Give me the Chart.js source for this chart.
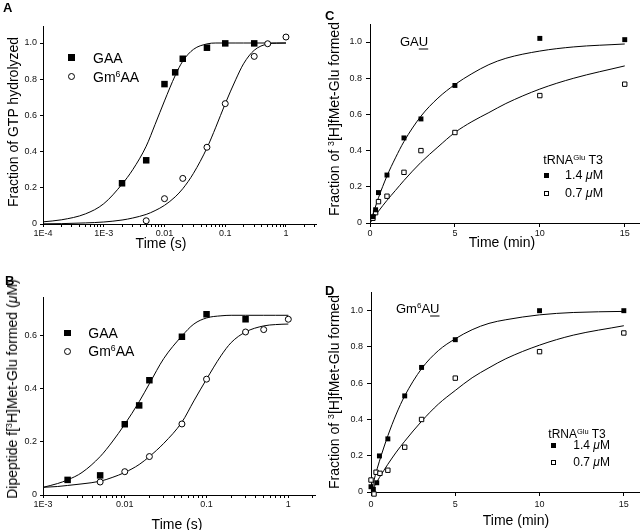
<!DOCTYPE html>
<html>
<head>
<meta charset="utf-8">
<script src="https://cdn.jsdelivr.net/npm/chart.js@4.4.0/dist/chart.umd.min.js"></script>
<style>
body { margin:0; background:#fff; width:644px; height:530px; position:relative; overflow:hidden; font-family:"Liberation Sans", Arial, sans-serif; color:#000; }
canvas { position:absolute; }
.t { position:absolute; white-space:nowrap; line-height:1; }
.t u { text-underline-offset:3px; text-decoration-thickness:1px; }
sup { font-size:0.62em; vertical-align:0.55em; line-height:0; }
.mk { position:absolute; box-sizing:border-box; border:1px solid #000; }
</style>
</head>
<body>
<canvas id="chartA" width="322" height="265" style="left:0;top:0"></canvas>
<canvas id="chartB" width="322" height="265" style="left:0;top:265px"></canvas>
<canvas id="chartC" width="322" height="265" style="left:322px;top:0"></canvas>
<canvas id="chartD" width="322" height="265" style="left:322px;top:265px"></canvas>
<script>
// ---- A: fraction of GTP hydrolyzed vs time (log)
const aGaaTime = [0.002, 0.005, 0.01, 0.015, 0.02, 0.05, 0.1, 0.3];
const aGaaFrac = [0.225, 0.352, 0.773, 0.838, 0.913, 0.974, 0.998, 0.998];
const aGm6Time = [0.005, 0.01, 0.02, 0.05, 0.1, 0.3, 0.5, 1];
const aGm6Frac = [0.018, 0.14, 0.252, 0.424, 0.665, 0.926, 0.996, 1.033];
const aFitTime = [1e-4, 2e-4, 5e-4, 1e-3, 2e-3, 3e-3, 5e-3, 7e-3, 0.01, 0.015, 0.02, 0.03, 0.05, 0.07, 0.1, 0.15, 0.2, 0.3, 0.5, 0.7, 1];
const aFitGaa = [0.012, 0.023, 0.056, 0.112, 0.22, 0.30, 0.43, 0.55, 0.68, 0.82, 0.90, 0.965, 0.995, 1.0, 1.0, 1.0, 1.0, 1.0, 1.0, 1.0, 1.0];
const aFitGm6 = [0.001, 0.002, 0.006, 0.011, 0.022, 0.033, 0.053, 0.074, 0.103, 0.15, 0.195, 0.28, 0.42, 0.535, 0.665, 0.80, 0.885, 0.96, 0.995, 0.999, 1.0];
const aXTicks = [1e-4, 1e-3, 0.01, 0.1, 1];
const aXLabels = ['1E-4', '1E-3', '0.01', '0.1', '1'];
const aYTicks = [0, 0.2, 0.4, 0.6, 0.8, 1.0];
const aYLabels = ['0', '0.2', '0.4', '0.6', '0.8', '1.0'];

// ---- B: dipeptide formed (uM) vs time (log)
const bGaaTime = [0.002, 0.005, 0.01, 0.015, 0.02, 0.05, 0.1, 0.3];
const bGaaConc = [0.057, 0.074, 0.267, 0.338, 0.433, 0.597, 0.682, 0.663];
const bGm6Time = [0.005, 0.01, 0.02, 0.05, 0.1, 0.3, 0.5, 1];
const bGm6Conc = [0.049, 0.088, 0.145, 0.268, 0.437, 0.615, 0.624, 0.663];
const bFitTime = [1e-3, 1.5e-3, 2e-3, 3e-3, 5e-3, 7e-3, 0.01, 0.015, 0.02, 0.03, 0.05, 0.07, 0.1, 0.15, 0.2, 0.3, 0.5, 0.7, 1];
const bFitGaa = [0.029, 0.043, 0.057, 0.085, 0.145, 0.20, 0.267, 0.352, 0.42, 0.515, 0.60, 0.645, 0.668, 0.676, 0.678, 0.678, 0.678, 0.678, 0.678];
const bFitGm6 = [0.029, 0.032, 0.036, 0.042, 0.052, 0.066, 0.085, 0.115, 0.145, 0.195, 0.275, 0.355, 0.437, 0.525, 0.575, 0.615, 0.638, 0.643, 0.645];
const bXTicks = [1e-3, 0.01, 0.1, 1];
const bXLabels = ['1E-3', '0.01', '0.1', '1'];
const bYTicks = [0, 0.2, 0.4, 0.6];
const bYLabels = ['0', '0.2', '0.4', '0.6'];

// ---- C: GAU, fraction formed vs time (min)
const cTime14 = [0.17, 0.33, 0.5, 1, 2, 3, 5, 10, 15];
const cFrac14 = [0.035, 0.073, 0.168, 0.265, 0.47, 0.575, 0.76, 1.02, 1.013];
const cTime07 = [0.17, 0.33, 0.5, 1, 2, 3, 5, 10, 15];
const cFrac07 = [0.026, 0.057, 0.118, 0.148, 0.28, 0.40, 0.50, 0.704, 0.767];
const cFitTime = [0, 0.25, 0.5, 1, 1.5, 2, 3, 4, 5, 6, 7, 8, 10, 12, 15];
const cFit14 = [0, 0.07, 0.14, 0.26, 0.36, 0.45, 0.59, 0.69, 0.765, 0.825, 0.875, 0.91, 0.95, 0.973, 0.989];
const cFit07 = [0, 0.032, 0.065, 0.125, 0.18, 0.235, 0.335, 0.42, 0.50, 0.56, 0.61, 0.66, 0.74, 0.80, 0.868];

// ---- D: Gm6AU, fraction formed vs time (min)
const dTime14 = [0, 0.14, 0.34, 0.5, 1, 2, 3, 5, 10, 15];
const dFrac14 = [0.029, 0.015, 0.051, 0.199, 0.293, 0.53, 0.687, 0.84, 1.0, 1.0];
const dTime07 = [0, 0.18, 0.3, 0.53, 1, 2, 3, 5, 10, 15];
const dFrac07 = [0.066, -0.011, 0.109, 0.103, 0.12, 0.247, 0.40, 0.628, 0.774, 0.877];
const dFitTime = [0, 0.25, 0.5, 1, 1.5, 2, 3, 4, 5, 6, 7, 8, 10, 12, 15];
const dFit14 = [0, 0.09, 0.17, 0.31, 0.43, 0.53, 0.68, 0.78, 0.845, 0.895, 0.93, 0.95, 0.977, 0.99, 0.996];
const dFit07 = [0, 0.04, 0.08, 0.153, 0.22, 0.28, 0.39, 0.485, 0.56, 0.63, 0.685, 0.735, 0.81, 0.865, 0.917];

const minTicks = [0, 5, 10, 15];
const minLabels = ['0', '5', '10', '15'];
const fracTicks = [0, 0.2, 0.4, 0.6, 0.8, 1.0];
const fracLabels = ['0', '0.2', '0.4', '0.6', '0.8', '1.0'];

Chart.defaults.font.family = '"Liberation Sans", Arial, sans-serif';

function pts(xs, ys) {
    return xs.map((x, i) => ({ x: x, y: ys[i] }));
}

function marks(xs, ys, shape, filled, r) {
    return {
        data: pts(xs, ys),
        pointStyle: shape,
        pointRadius: r,
        backgroundColor: filled ? '#000' : '#fff',
        borderColor: '#000',
        borderWidth: filled ? 0 : 1,
        showLine: false,
        clip: false
    };
}

function fit(xs, ys) {
    return {
        data: pts(xs, ys),
        showLine: true,
        borderColor: '#000',
        borderWidth: 1,
        pointRadius: 0,
        fill: false,
        cubicInterpolationMode: 'monotone'
    };
}

// every 1..9 x 10^n between min and max, for log minor ticks
function logTicks(min, max) {
    const out = [];
    for (let e = Math.floor(Math.log10(min)); e <= Math.ceil(Math.log10(max)); e++) {
        for (let k = 1; k <= 9; k++) {
            const v = k * Math.pow(10, e);
            if (v >= min * 0.999 && v <= max) out.push(v);
        }
    }
    return out;
}

function axis(o) {
    return {
        type: o.type,
        min: o.min,
        max: o.max,
        border: { display: true, color: '#000', width: 1 },
        grid: { display: true, drawOnChartArea: false, drawTicks: true, tickLength: o.tick, color: '#000' },
        ticks: {
            color: '#111',
            font: { size: 9 },
            padding: o.pad,
            autoSkip: false,
            maxRotation: 0,
            callback: (v) => {
                const i = o.values.findIndex(t => Math.abs(t - v) <= Math.abs(t) * 1e-6 + 1e-9);
                return i >= 0 ? o.labels[i] : '';
            }
        },
        afterBuildTicks: (s) => {
            s.ticks = o.all.map(v => ({ value: v }));
        },
        afterFit: (s) => {
            if (o.width) s.width = o.width;
            if (o.height) s.height = o.height;
        }
    };
}

function panel(id, datasets, padding, xAxis, yAxis) {
    return new Chart(document.getElementById(id), {
        type: 'scatter',
        data: { datasets: datasets },
        options: {
            responsive: false,
            animation: false,
            devicePixelRatio: 1,
            layout: { padding: padding },
            plugins: { legend: { display: false }, tooltip: { enabled: false } },
            scales: { x: xAxis, y: yAxis }
        }
    });
}

panel('chartA', [
    marks(aGaaTime, aGaaFrac, 'rect', true, 4.6),
    marks(aGm6Time, aGm6Frac, 'circle', false, 3),
    fit(aFitTime, aFitGaa),
    fit(aFitTime, aFitGm6)
], { top: 26, right: 6, left: 0, bottom: 0 },
    axis({ type: 'logarithmic', min: 1e-4, max: 3.12, tick: 3, pad: 1.5, values: aXTicks, labels: aXLabels, all: logTicks(1e-4, 3.12), height: 41 }),
    axis({ type: 'linear', min: 0, max: 1.094, tick: 3, pad: 3, values: aYTicks, labels: aYLabels, all: aYTicks, width: 43 }));

panel('chartB', [
    marks(bGaaTime, bGaaConc, 'rect', true, 4.6),
    marks(bGm6Time, bGm6Conc, 'circle', false, 3),
    fit(bFitTime, bFitGaa),
    fit(bFitTime, bFitGm6)
], { top: 32, right: 7, left: 0, bottom: 0 },
    axis({ type: 'logarithmic', min: 1e-3, max: 2.12, tick: 3, pad: 1, values: bXTicks, labels: bXLabels, all: logTicks(1e-3, 2.12), height: 35 }),
    axis({ type: 'linear', min: 0, max: 0.747, tick: 3, pad: 3, values: bYTicks, labels: bYLabels, all: bYTicks, width: 43 }));

panel('chartC', [
    marks(cTime14, cFrac14, 'rect', true, 3.5),
    marks(cTime07, cFrac07, 'rect', false, 3.1),
    fit(cFitTime, cFit14),
    fit(cFitTime, cFit07)
], { top: 24, right: 5, left: 0, bottom: 0 },
    axis({ type: 'linear', min: 0, max: 15.84, tick: 4, pad: 1.5, values: minTicks, labels: minLabels, all: minTicks, height: 42 }),
    axis({ type: 'linear', min: 0, max: 1.0995, tick: 4, pad: 4, values: fracTicks, labels: fracLabels, all: fracTicks, width: 48 }));

panel('chartD', [
    marks(dTime14, dFrac14, 'rect', true, 3.5),
    marks(dTime07, dFrac07, 'rect', false, 3.1),
    fit(dFitTime, dFit14),
    fit(dFitTime, dFit07)
], { top: 27, right: 4, left: 0, bottom: 0 },
    axis({ type: 'linear', min: 0, max: 15.9, tick: 4, pad: 3, values: minTicks, labels: minLabels, all: minTicks, height: 38 }),
    axis({ type: 'linear', min: 0, max: 1.103, tick: 4, pad: 4, values: fracTicks, labels: fracLabels, all: fracTicks, width: 49 }));

// ---- html text: titles, legends, panel letters
function text(html, x, y, size, how) {
    const d = document.createElement('div');
    d.className = 't';
    d.innerHTML = html;
    d.style.left = x + 'px';
    d.style.top = y + 'px';
    d.style.fontSize = size + 'px';
    if (how === 'v') d.style.transform = 'translate(-50%,-50%) rotate(-90deg)';
    else if (how === 'l') d.style.transform = 'translate(0,-50%)';
    else if (how === 'b') { d.style.fontWeight = 'bold'; d.style.transform = 'translate(0,-50%)'; }
    else d.style.transform = 'translate(-50%,-50%)';
    document.body.appendChild(d);
}

function marker(x, y, side, filled, round) {
    const m = document.createElement('div');
    m.className = 'mk';
    m.style.left = (x - side / 2) + 'px';
    m.style.top = (y - side / 2) + 'px';
    m.style.width = side + 'px';
    m.style.height = side + 'px';
    m.style.background = filled ? '#000' : '#fff';
    if (round) m.style.borderRadius = '50%';
    document.body.appendChild(m);
}

// A
text('A', 3, 7, 13, 'b');
text('Fraction of GTP hydrolyzed', 12.5, 122, 14, 'v');
text('Time (s)', 161, 243, 14);
marker(71.7, 57.7, 6.5, true);
text('GAA', 93, 58.3, 14, 'l');
marker(71, 76.5, 7, false, true);
text('Gm<sup>6</sup>AA', 93, 77, 14, 'l');

// B
text('B', 5, 280, 13, 'b');
text('Dipeptide f[<sup>3</sup>H]Met-Glu formed (<i>&mu;</i>M)', 12, 389, 14, 'v');
text('Time (s)', 177, 524, 14);
marker(67.7, 333, 6.5, true);
text('GAA', 88.3, 333.3, 14, 'l');
marker(67.7, 351, 7, false, true);
text('Gm<sup>6</sup>AA', 88.3, 351, 14, 'l');

// C
text('C', 325, 14.7, 13, 'b');
text('Fraction of <sup>3</sup>[H]fMet-Glu formed', 334, 118.7, 14, 'v');
text('Time (min)', 502, 242, 14);
text('GA<u>U</u>', 400, 41, 13, 'l');
text('tRNA<sup>Glu</sup> T3', 543.3, 159.5, 12.5, 'l');
marker(546, 175, 5, true);
text('1.4 <i>&mu;</i>M', 565, 175, 12.5, 'l');
marker(546, 193.3, 5, false);
text('0.7 <i>&mu;</i>M', 565, 193.3, 12.5, 'l');

// D
text('D', 325, 289.7, 13, 'b');
text('Gm<sup>6</sup>A<u>U</u>', 396, 308, 13, 'l');
text('Fraction of <sup>3</sup>[H]fMet-Glu formed', 334, 392, 14, 'v');
text('Time (min)', 516, 520, 14);
text('tRNA<sup>Glu</sup> T3', 548.3, 433.5, 12, 'l');
marker(553.3, 445, 5, true);
text('1.4 <i>&mu;</i>M', 573.3, 445, 12, 'l');
marker(553.3, 462, 5, false);
text('0.7 <i>&mu;</i>M', 573.3, 462, 12, 'l');
</script>
</body>
</html>
